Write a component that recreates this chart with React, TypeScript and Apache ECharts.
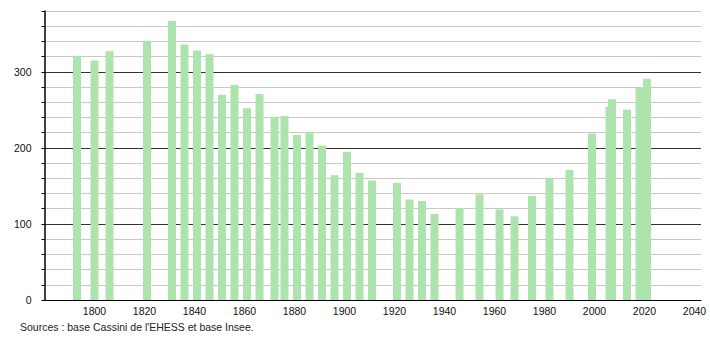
import React, { useEffect, useRef } from "react";
import * as echarts from "echarts";

const years = [1793, 1800, 1806, 1821, 1831, 1836, 1841, 1846, 1851, 1856, 1861, 1866, 1872, 1876, 1881, 1886, 1891, 1896, 1901, 1906, 1911, 1921, 1926, 1931, 1936, 1946, 1954, 1962, 1968, 1975, 1982, 1990, 1999, 2006, 2007, 2013, 2018, 2021];
const population = [321, 315, 327, 341, 367, 336, 328, 323, 270, 283, 252, 271, 241, 242, 217, 221, 203, 164, 195, 167, 157, 154, 132, 130, 113, 121, 139, 119, 110, 137, 160, 171, 219, 254, 264, 250, 280, 291];
const sourceText = "Sources : base Cassini de l'EHESS et base Insee.";

const FONT = "'Liberation Sans', Arial, Helvetica, sans-serif";

export default function App() {
  const ref = useRef<HTMLDivElement>(null);
  useEffect(() => {
    if (!ref.current) return;
    const chart = echarts.init(ref.current, undefined, { renderer: "svg" });
    chart.setOption({
      animation: false,
      backgroundColor: "#ffffff",
      grid: { left: 44.5, right: 9, top: 11, bottom: 40, containLabel: false },
      xAxis: {
        type: "value",
        min: 1780,
        max: 2042.6,
        interval: 20,
        axisLine: { show: true, lineStyle: { color: "#000", width: 1.2 } },
        axisTick: { show: false },
        splitLine: { show: false },
        axisLabel: {
          color: "#111",
          fontFamily: FONT,
          fontSize: 10.5,
          margin: 5,
          showMinLabel: false,
          formatter: (v: number) => (v % 20 === 0 && v !== 1780 ? String(v) : ""),
        },
      },
      yAxis: {
        type: "value",
        min: 0,
        max: 380,
        interval: 20,
        axisLine: { show: true, lineStyle: { color: "#000", width: 1.5 } },
        axisTick: { show: true, length: 3, inside: false, lineStyle: { color: "#000" } },
        splitLine: {
          show: true,
          lineStyle: { color: ["#333333", "#c8c8c8", "#c8c8c8", "#c8c8c8", "#c8c8c8"], width: 1 },
        },
        axisLabel: {
          color: "#111",
          fontFamily: FONT,
          fontSize: 10.5,
          margin: 13,
          formatter: (v: number) => (v % 100 === 0 ? String(v) : ""),
        },
      },
      series: [
        {
          type: "bar",
          barWidth: 8,
          data: years.map((y, i) => [y, population[i]]),
          itemStyle: { color: "#ade3ad" },
        },
      ],
      graphic: [
        {
          type: "text",
          left: 20,
          top: 321,
          style: { text: sourceText, fill: "#222", font: `10.5px ${FONT}` },
        },
      ],
    });
    return () => chart.dispose();
  }, []);
  return <div ref={ref} style={{ width: 710, height: 340, position: "absolute", left: 0, top: 0 }} />;
}
